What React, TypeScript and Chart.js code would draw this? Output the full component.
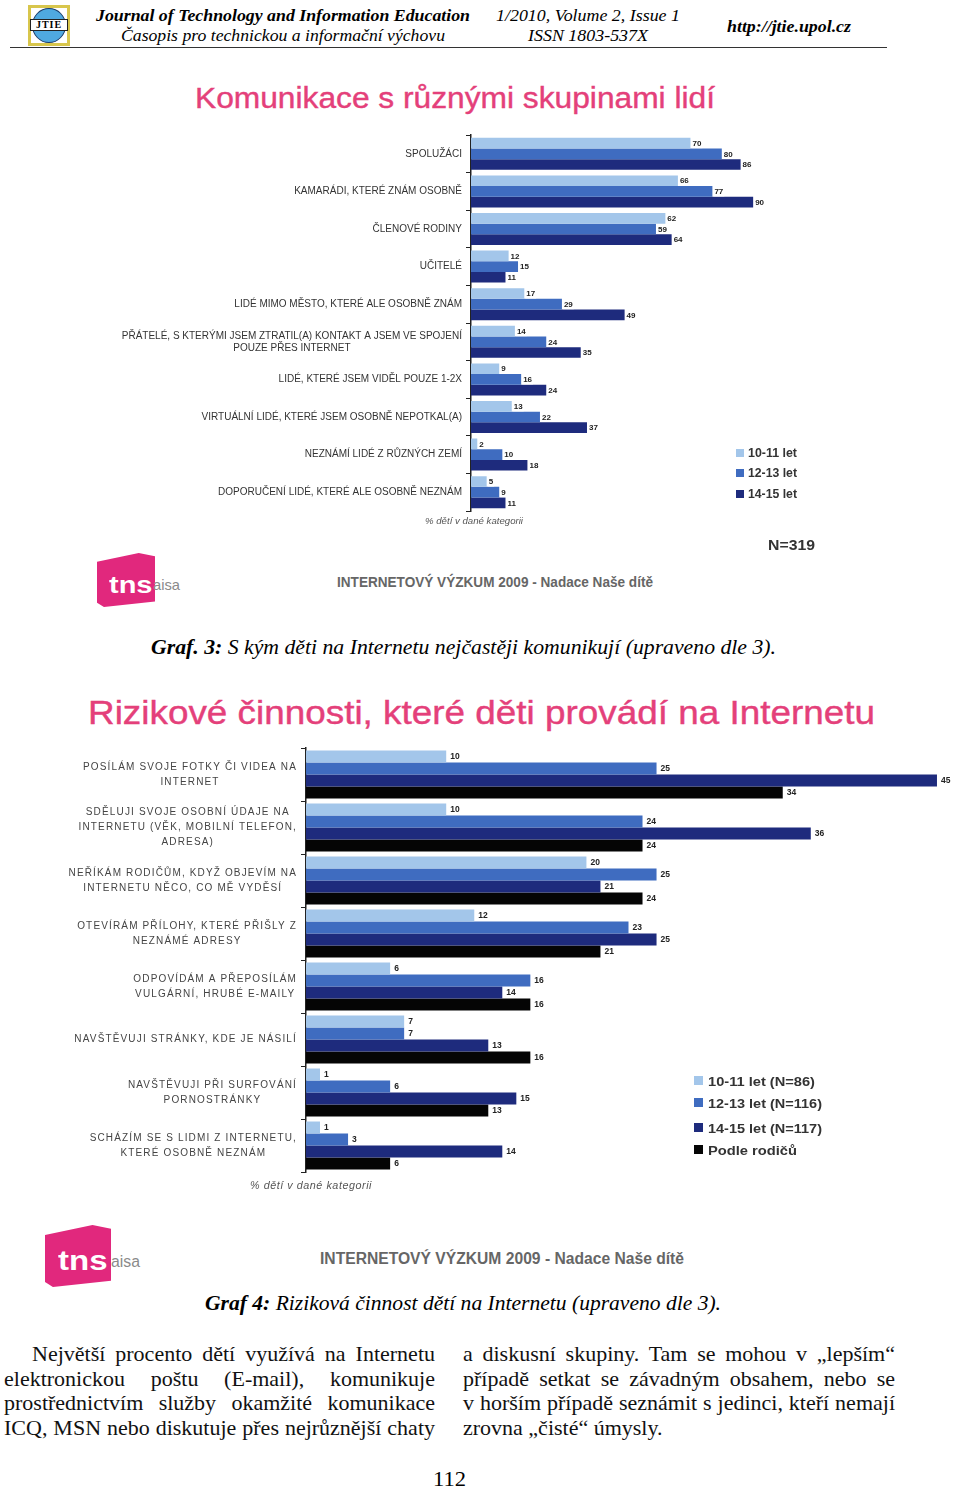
import React, { useEffect, useLayoutEffect, useRef } from "react";
import { Chart, registerables } from "chart.js";
Chart.register(...registerables);

// ---------- DATA ----------
const contactCategories: string[][] = [
  ["SPOLUŽÁCI"],
  ["KAMARÁDI, KTERÉ ZNÁM OSOBNĚ"],
  ["ČLENOVÉ RODINY"],
  ["UČITELÉ"],
  ["LIDÉ MIMO MĚSTO, KTERÉ ALE OSOBNĚ ZNÁM"],
  ["PŘÁTELÉ, S KTERÝMI JSEM ZTRATIL(A) KONTAKT A JSEM VE SPOJENÍ", "POUZE PŘES INTERNET"],
  ["LIDÉ, KTERÉ JSEM VIDĚL POUZE 1-2X"],
  ["VIRTUÁLNÍ LIDÉ, KTERÉ JSEM OSOBNĚ NEPOTKAL(A)"],
  ["NEZNÁMÍ LIDÉ Z RŮZNÝCH ZEMÍ"],
  ["DOPORUČENÍ LIDÉ, KTERÉ ALE OSOBNĚ NEZNÁM"],
];
const contactSeriesNames = ["10-11 let", "12-13 let", "14-15 let"];
const contact1011 = [70, 66, 62, 12, 17, 14, 9, 13, 2, 5];
const contact1213 = [80, 77, 59, 15, 29, 24, 16, 22, 10, 9];
const contact1415 = [86, 90, 64, 11, 49, 35, 24, 37, 18, 11];

const riskCategories: string[][] = [
  ["POSÍLÁM SVOJE FOTKY ČI VIDEA NA", "INTERNET"],
  ["SDĚLUJI SVOJE OSOBNÍ ÚDAJE NA", "INTERNETU (VĚK, MOBILNÍ TELEFON,", "ADRESA)"],
  ["NEŘÍKÁM RODIČŮM, KDYŽ OBJEVÍM NA", "INTERNETU NĚCO, CO MĚ VYDĚSÍ"],
  ["OTEVÍRÁM PŘÍLOHY, KTERÉ PŘIŠLY Z", "NEZNÁMÉ ADRESY"],
  ["ODPOVÍDÁM A PŘEPOSÍLÁM", "VULGÁRNÍ, HRUBÉ E-MAILY"],
  ["NAVŠTĚVUJI STRÁNKY, KDE JE NÁSILÍ"],
  ["NAVŠTĚVUJI PŘI SURFOVÁNÍ", "PORNOSTRÁNKY"],
  ["SCHÁZÍM SE S LIDMI Z INTERNETU,", "KTERÉ OSOBNĚ NEZNÁM"],
];
const riskSeriesNames = ["10-11 let (N=86)", "12-13 let (N=116)", "14-15 let (N=117)", "Podle rodičů"];
const risk1011 = [10, 10, 20, 12, 6, 7, 1, 1];
const risk1213 = [25, 24, 25, 23, 16, 7, 6, 3];
const risk1415 = [45, 36, 21, 25, 14, 13, 15, 14];
const riskParents = [34, 24, 24, 21, 16, 16, 13, 6];

const COLORS = ["#a3c6ea", "#3f6cc0", "#1e2b7d", "#050505"];

// ---------- PLUGINS ----------
function valueLabels(font: string, dx: number) {
  return {
    id: "valueLabels",
    afterDatasetsDraw(chart: any) {
      const ctx = chart.ctx;
      ctx.save();
      ctx.font = font;
      ctx.textBaseline = "middle";
      ctx.textAlign = "left";
      chart.data.datasets.forEach((ds: any, i: number) => {
        const meta = chart.getDatasetMeta(i);
        meta.data.forEach((el: any, j: number) => {
          const t = String(ds.data[j]);
          const w = ctx.measureText(t).width;
          const x = el.x + dx;
          const y = el.y;
          ctx.fillStyle = "rgba(255,255,255,0.8)";
          ctx.fillRect(x - 1, y - 5, w + 2, 10);
          ctx.fillStyle = "#222";
          ctx.fillText(t, x, y + 0.5);
        });
      });
      ctx.restore();
    },
  };
}

function categoryLabels(labels: string[][], font: string, lh: number, gap: number, spacing: string, color: string) {
  return {
    id: "categoryLabels",
    afterDraw(chart: any) {
      const s = chart.scales.y;
      const ctx = chart.ctx;
      ctx.save();
      ctx.font = font;
      ctx.fillStyle = color;
      ctx.textBaseline = "middle";
      ctx.textAlign = "center";
      (ctx as any).letterSpacing = spacing;
      labels.forEach((lines, i) => {
        const y = s.getPixelForValue(i);
        const maxW = Math.max(...lines.map((l) => ctx.measureText(l).width));
        const cx = s.right - gap - maxW / 2;
        lines.forEach((l, k) => ctx.fillText(l, cx, y + (k - (lines.length - 1) / 2) * lh));
      });
      ctx.restore();
    },
  };
}

// ---------- CHART COMPONENT ----------
type BarProps = {
  top: number;
  height: number;
  labels: string[][];
  names: string[];
  series: number[][];
  axisX: number;
  max: number;
  pad: { top: number; bottom: number; right: number };
  catPct: number;
  labelFont: string;
  labelLH: number;
  labelSpacing: string;
  labelColor: string;
  valueFont: string;
  valueDx: number;
};

function BarChart(p: BarProps) {
  const ref = useRef<HTMLCanvasElement>(null);
  useEffect(() => {
    const chart = new Chart(ref.current!, {
      type: "bar",
      data: {
        labels: p.labels.map((l) => l.join(" ")),
        datasets: p.series.map((d, i) => ({
          label: p.names[i],
          data: d,
          backgroundColor: COLORS[i],
          borderWidth: 0,
          barPercentage: 1,
          categoryPercentage: p.catPct,
        })),
      },
      options: {
        indexAxis: "y",
        responsive: false,
        animation: false,
        events: [],
        layout: { padding: { left: 0, top: p.pad.top, bottom: p.pad.bottom, right: p.pad.right } },
        plugins: { legend: { display: false }, tooltip: { enabled: false }, title: { display: false } },
        scales: {
          x: { display: false, min: 0, max: p.max },
          y: {
            type: "category",
            afterFit(scale: any) {
              scale.width = p.axisX;
            },
            ticks: { display: false },
            grid: { offset: true, drawOnChartArea: false, drawTicks: true, tickLength: 5, color: "#222", lineWidth: 1 },
            border: { color: "#222", width: 1.5 },
          },
        },
      },
      plugins: [
        valueLabels(p.valueFont, p.valueDx),
        categoryLabels(p.labels, p.labelFont, p.labelLH, 9, p.labelSpacing, p.labelColor),
      ],
    } as any);
    return () => chart.destroy();
  }, []);
  return (
    <canvas
      ref={ref}
      width={960}
      height={p.height}
      style={{ position: "absolute", left: 0, top: p.top, width: 960, height: p.height }}
    />
  );
}

// ---------- TEXT HELPERS ----------
function FitText(props: { x: number; cy: number; w: number; size: number; style?: any; children: any }) {
  const ref = useRef<HTMLSpanElement>(null);
  const h = Math.round(props.size * 1.3);
  useLayoutEffect(() => {
    const el = ref.current!;
    const apply = () => {
      el.style.transform = "none";
      const nat = el.getBoundingClientRect().width;
      if (nat > 0) el.style.transform = `scaleX(${props.w / nat})`;
    };
    apply();
    (document as any).fonts?.ready.then(apply);
  }, [props.w]);
  return (
    <span
      ref={ref}
      style={{
        position: "absolute",
        left: props.x,
        top: props.cy - h / 2,
        height: h,
        lineHeight: `${h}px`,
        whiteSpace: "nowrap",
        transformOrigin: "0 0",
        fontSize: props.size,
        ...props.style,
      }}
    >
      {props.children}
    </span>
  );
}

type Line = { t: string; x: number; w: number; j: boolean; cy: number };

// Justified paragraph lines sharing one horizontal compression factor
function Paragraph(props: { lines: Line[]; size: number }) {
  const refs = useRef<(HTMLSpanElement | null)[]>([]);
  const h = 26;
  useLayoutEffect(() => {
    const apply = () => {
      const els = refs.current;
      const nats = els.map((el) => {
        if (!el) return 1;
        el.style.transform = "none";
        el.style.wordSpacing = "0px";
        return el.getBoundingClientRect().width;
      });
      let s = 1;
      props.lines.forEach((l, i) => {
        if (l.j) s = Math.min(s, l.w / nats[i]);
      });
      els.forEach((el, i) => {
        if (!el) return;
        const l = props.lines[i];
        el.style.transform = `scaleX(${s})`;
        const spaces = (l.t.match(/ /g) || []).length;
        if (l.j && spaces > 0) el.style.wordSpacing = `${Math.max(0, (l.w / s - nats[i]) / spaces)}px`;
      });
    };
    apply();
    (document as any).fonts?.ready.then(apply);
  }, []);
  return (
    <>
      {props.lines.map((l, i) => (
        <span
          key={i}
          ref={(e) => {
            refs.current[i] = e;
          }}
          style={{
            position: "absolute",
            left: l.x,
            top: l.cy - h / 2,
            height: h,
            lineHeight: `${h}px`,
            whiteSpace: "nowrap",
            transformOrigin: "0 0",
            fontSize: props.size,
            fontFamily: "'Liberation Serif', serif",
            color: "#111",
          }}
        >
          {l.t}
        </span>
      ))}
    </>
  );
}

function TnsLogo(props: { x: number; y: number; w: number; h: number; fs: number; aisaX: number; aisaW: number }) {
  return (
    <>
      <div
        style={{
          position: "absolute",
          left: props.x,
          top: props.y,
          width: props.w,
          height: props.h,
          background: "#e1287d",
          clipPath: "polygon(0% 16%, 72% 0%, 100% 6%, 100% 90%, 12% 100%, 0% 92%)",
        }}
      />
      <FitText
        x={props.x + props.w * 0.2}
        cy={props.y + props.h * 0.58}
        w={props.w * 0.75}
        size={props.fs}
        style={{ fontFamily: "'Liberation Sans', sans-serif", fontWeight: 700, color: "#fff" }}
      >
        tns
      </FitText>
      <FitText
        x={props.aisaX}
        cy={props.y + props.h * 0.6}
        w={props.aisaW}
        size={props.fs * 0.6}
        style={{ fontFamily: "'Liberation Sans', sans-serif", color: "#8a8a8a" }}
      >
        aisa
      </FitText>
    </>
  );
}

const SANS = "'Liberation Sans', Arial, sans-serif";
const SERIF = "'Liberation Serif', 'Times New Roman', serif";

const bodyRows = [1354, 1378.5, 1403, 1427.5];
const leftColumnText = [
  "Největší procento dětí využívá na Internetu",
  "elektronickou poštu (E-mail), komunikuje",
  "prostřednictvím služby okamžité komunikace",
  "ICQ, MSN nebo diskutuje přes nejrůznější chaty",
];
const rightColumnText = [
  "a diskusní skupiny. Tam se mohou v „lepším“",
  "případě setkat se závadným obsahem, nebo se",
  "v horším případě seznámit s jedinci, kteří nemají",
  "zrovna „čisté“ úmysly.",
];

// ---------- APP ----------
export default function App() {
  const legend1 = contactSeriesNames.map((n, i) => ({ n, cy: [453, 473, 494][i], w: 49 }));
  const legend2 = riskSeriesNames.map((n, i) => ({ n, cy: [1081, 1103, 1128, 1150][i], w: [107, 114, 114, 89][i] }));

  const lines: Line[] = [
    ...leftColumnText.map((t, i) => ({ t, x: i === 0 ? 32 : 4, w: i === 0 ? 403 : 431, j: true, cy: bodyRows[i] })),
    ...rightColumnText.map((t, i) => ({ t, x: 463, w: 432, j: i < 3, cy: bodyRows[i] })),
  ];

  return (
    <div style={{ position: "absolute", left: 0, top: 0, width: 960, height: 1489, background: "#fff", overflow: "hidden" }}>
      {/* Header */}
      <div style={{ position: "absolute", left: 28, top: 5, width: 42, height: 41, background: "#d8c64c" }} />
      <div style={{ position: "absolute", left: 31, top: 8, width: 36, height: 35, background: "#fff" }} />
      <div
        style={{
          position: "absolute",
          left: 32,
          top: 8,
          width: 34,
          height: 35,
          borderRadius: "50%",
          background: "#4fa9e0",
          border: "1px solid #1a3c6a",
          boxSizing: "border-box",
        }}
      />
      <div
        style={{
          position: "absolute",
          left: 30,
          top: 19,
          width: 38,
          height: 12,
          background: "#fff",
          border: "1px solid #222",
          boxSizing: "border-box",
          fontFamily: SERIF,
          fontWeight: 700,
          fontSize: 10,
          lineHeight: "10px",
          textAlign: "center",
          letterSpacing: 1,
        }}
      >
        JTIE
      </div>
      <FitText x={96} cy={16} w={374} size={17} style={{ fontFamily: SERIF, fontWeight: 700, fontStyle: "italic" }}>
        Journal of Technology and Information Education
      </FitText>
      <FitText x={121} cy={36} w={324} size={17} style={{ fontFamily: SERIF, fontStyle: "italic" }}>
        Časopis pro technickou a informační výchovu
      </FitText>
      <FitText x={496} cy={16} w={184} size={17} style={{ fontFamily: SERIF, fontStyle: "italic" }}>
        1/2010, Volume 2, Issue 1
      </FitText>
      <FitText x={528} cy={36} w={120} size={17} style={{ fontFamily: SERIF, fontStyle: "italic" }}>
        ISSN 1803-537X
      </FitText>
      <FitText x={727} cy={26} w={124} size={16} style={{ fontFamily: SERIF, fontWeight: 700, fontStyle: "italic" }}>
        http://jtie.upol.cz
      </FitText>
      <div style={{ position: "absolute", left: 10, top: 47, width: 877, height: 1, background: "#333" }} />

      {/* Chart 1 */}
      <FitText x={195} cy={97} w={520} size={30} style={{ fontFamily: SANS, color: "#e4407a", WebkitTextStroke: "0.4px #e4407a" }}>
        Komunikace s různými skupinami lidí
      </FitText>
      <BarChart
        top={130}
        height={400}
        labels={contactCategories}
        names={contactSeriesNames}
        series={[contact1011, contact1213, contact1415]}
        axisX={471}
        max={100}
        pad={{ top: 5, bottom: 19, right: 175.5 }}
        catPct={0.85}
        labelFont={`10px ${SANS}`}
        labelLH={12}
        labelSpacing="0px"
        labelColor="#333"
        valueFont={`bold 8px ${SANS}`}
        valueDx={2}
      />
      <FitText x={425} cy={521} w={98} size={9} style={{ fontFamily: SANS, fontStyle: "italic", color: "#555" }}>
        % dětí v dané kategorii
      </FitText>
      {legend1.map((l, i) => (
        <React.Fragment key={l.n}>
          <div style={{ position: "absolute", left: 736, top: l.cy - 4, width: 8, height: 8, background: COLORS[i] }} />
          <FitText x={748} cy={l.cy} w={l.w} size={12} style={{ fontFamily: SANS, fontWeight: 700, color: "#333" }}>
            {l.n}
          </FitText>
        </React.Fragment>
      ))}
      <FitText x={768} cy={545} w={47} size={15} style={{ fontFamily: SANS, fontWeight: 700, color: "#333" }}>
        N=319
      </FitText>
      <TnsLogo x={97} y={553} w={58} h={54} fs={24} aisaX={153} aisaW={27} />
      <FitText x={337} cy={582} w={316} size={14} style={{ fontFamily: SANS, fontWeight: 700, color: "#666" }}>
        INTERNETOVÝ VÝZKUM 2009 - Nadace Naše dítě
      </FitText>
      <FitText x={151} cy={647} w={625} size={21} style={{ fontFamily: SERIF, fontStyle: "italic" }}>
        <b>Graf. 3:</b> S kým děti na Internetu nejčastěji komunikují (upraveno dle 3).
      </FitText>

      {/* Chart 2 */}
      <FitText x={88} cy={712} w={787} size={33} style={{ fontFamily: SANS, color: "#e4407a", WebkitTextStroke: "0.4px #e4407a" }}>
        Rizikové činnosti, které děti provádí na Internetu
      </FitText>
      <BarChart
        top={740}
        height={450}
        labels={riskCategories}
        names={riskSeriesNames}
        series={[risk1011, risk1213, risk1415, riskParents]}
        axisX={306}
        max={46}
        pad={{ top: 8, bottom: 18, right: 9 }}
        catPct={0.905}
        labelFont={`10px ${SANS}`}
        labelLH={15}
        labelSpacing="1.15px"
        labelColor="#444"
        valueFont={`bold 8.5px ${SANS}`}
        valueDx={4}
      />
      <FitText x={250} cy={1185} w={122} size={10} style={{ fontFamily: SANS, fontStyle: "italic", color: "#555", letterSpacing: 0.5 }}>
        % dětí v dané kategorii
      </FitText>
      {legend2.map((l, i) => (
        <React.Fragment key={l.n}>
          <div style={{ position: "absolute", left: 694, top: l.cy - 5, width: 9, height: 9, background: COLORS[i] }} />
          <FitText x={708} cy={l.cy} w={l.w} size={13} style={{ fontFamily: SANS, fontWeight: 700, color: "#333" }}>
            {l.n}
          </FitText>
        </React.Fragment>
      ))}
      <TnsLogo x={45} y={1225} w={66} h={62} fs={28} aisaX={111} aisaW={29} />
      <FitText x={320} cy={1258} w={364} size={16} style={{ fontFamily: SANS, fontWeight: 700, color: "#666" }}>
        INTERNETOVÝ VÝZKUM 2009 - Nadace Naše dítě
      </FitText>
      <FitText x={205} cy={1303} w={516} size={21} style={{ fontFamily: SERIF, fontStyle: "italic" }}>
        <b>Graf 4:</b> Riziková činnost dětí na Internetu (upraveno dle 3).
      </FitText>

      {/* Body text */}
      <Paragraph lines={lines} size={22} />
      <FitText x={433} cy={1478} w={33} size={22} style={{ fontFamily: SERIF }}>
        112
      </FitText>
    </div>
  );
}
